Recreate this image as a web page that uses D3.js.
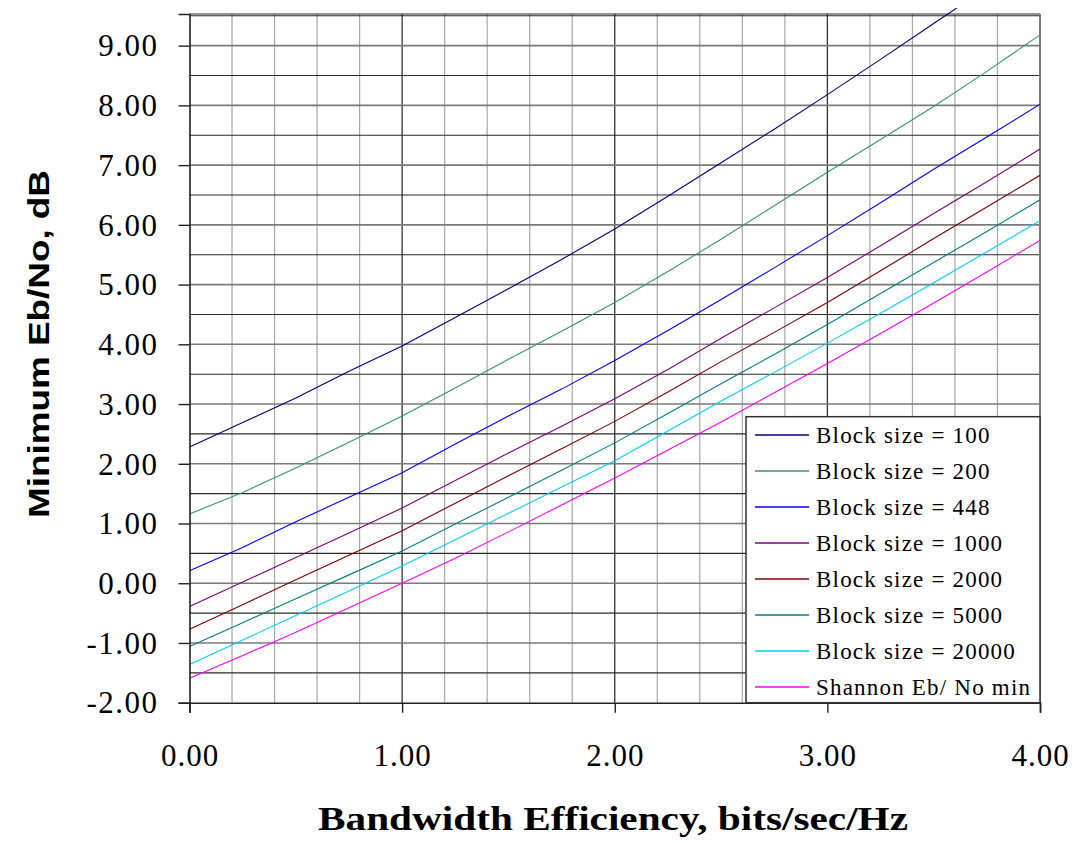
<!DOCTYPE html>
<html>
<head>
<meta charset="utf-8">
<script src="https://cdn.jsdelivr.net/npm/d3@7"></script>
<style>
  html, body { margin: 0; padding: 0; background: #fff; }
  svg { display: block; }
</style>
</head>
<body>
<svg id="chart" width="1077" height="843"></svg>
<script>
// ---- Data ----
const efficiency = [0, 0.25, 0.5, 0.75, 1.0, 1.25, 1.5, 1.75, 2.0, 2.25, 2.5, 2.75, 3.0, 3.25, 3.5, 3.75, 4.0];

const block100   = [2.28, 2.69, 3.10, 3.55, 3.97, 4.45, 4.93, 5.42, 5.93, 6.48, 7.04, 7.60, 8.18, 8.77, 9.37, 9.97, null];
const block200   = [1.16, 1.52, 1.93, 2.36, 2.80, 3.27, 3.75, 4.22, 4.70, 5.22, 5.76, 6.32, 6.88, 7.43, 7.98, 8.57, 9.18];
const block448   = [0.21, 0.60, 1.03, 1.44, 1.85, 2.33, 2.80, 3.25, 3.73, 4.23, 4.75, 5.28, 5.82, 6.37, 6.93, 7.47, 8.02];
const block1000  = [-0.39, 0.02, 0.43, 0.84, 1.26, 1.72, 2.18, 2.63, 3.09, 3.58, 4.10, 4.61, 5.12, 5.65, 6.19, 6.72, 7.27];
const block2000  = [-0.77, -0.36, 0.06, 0.47, 0.88, 1.34, 1.80, 2.25, 2.71, 3.20, 3.71, 4.20, 4.70, 5.23, 5.77, 6.30, 6.83];
const block5000  = [-1.06, -0.66, -0.26, 0.14, 0.54, 0.99, 1.44, 1.89, 2.35, 2.84, 3.34, 3.83, 4.33, 4.85, 5.37, 5.89, 6.42];
const block20000 = [-1.36, -0.95, -0.54, -0.13, 0.29, 0.73, 1.17, 1.61, 2.05, 2.55, 3.05, 3.53, 4.02, 4.52, 5.03, 5.55, 6.07];
const shannon    = [-1.59, -1.21, -0.82, -0.41, 0.00, 0.42, 0.86, 1.31, 1.76, 2.23, 2.70, 3.19, 3.68, 4.18, 4.69, 5.21, 5.74];

const seriesNames  = ["Block size = 100", "Block size = 200", "Block size = 448", "Block size = 1000",
                      "Block size = 2000", "Block size = 5000", "Block size = 20000", "Shannon Eb/ No min"];
const seriesValues = [block100, block200, block448, block1000, block2000, block5000, block20000, shannon];
const seriesColors = ["#000080", "#339966", "#0000ff", "#800080", "#800000", "#008080", "#00ccff", "#ff00ff"];

const xTicks = [0, 1, 2, 3, 4];
const yTicks = [-2, -1, 0, 1, 2, 3, 4, 5, 6, 7, 8, 9];
const xTitle = "Bandwidth Efficiency, bits/sec/Hz";
const yTitle = "Minimum Eb/No, dB";

// ---- Layout ----
const svg = d3.select("#chart");
const L = 189.5, R = 1040, T = 14, B = 702.7;

const x = d3.scaleLinear().domain([0, 4]).range([L, R]);
const y = d3.scaleLinear().domain([-2, 9.53]).range([B, T]);

const fmt = d3.formatLocale({decimal: ".", thousands: ",", grouping: [3], currency: ["", ""], minus: "-"}).format(".2f");

// vertical grid (every 0.2)
const vGrid = d3.range(0.2, 4.0001, 0.2).map(v => +v.toFixed(1));
svg.append("g").selectAll("line").data(vGrid).join("line")
  .attr("x1", d => x(d)).attr("x2", d => x(d))
  .attr("y1", T).attr("y2", B)
  .attr("stroke", d => Math.abs(d - Math.round(d)) < 1e-6 ? "#333333" : "#a6a6a6")
  .attr("stroke-width", d => Math.abs(d - Math.round(d)) < 1e-6 ? 1.3 : 1.2);

// horizontal grid (every 0.5)
const hGrid = d3.range(-1.5, 9.5001, 0.5).map(v => +v.toFixed(1));
svg.append("g").selectAll("line").data(hGrid).join("line")
  .attr("x1", L).attr("x2", R)
  .attr("y1", d => y(d)).attr("y2", d => y(d))
  .attr("stroke", d => Number.isInteger(d) ? "#7a7a7a" : "#2a2a2a")
  .attr("stroke-width", d => Number.isInteger(d) ? 1.6 : 1.1);

// top border and right border
svg.append("line").attr("x1", L).attr("x2", R).attr("y1", T).attr("y2", T)
  .attr("stroke", "#2a2a2a").attr("stroke-width", 1.2);
svg.append("line").attr("x1", R).attr("x2", R).attr("y1", T).attr("y2", B)
  .attr("stroke", "#7a7a7a").attr("stroke-width", 2);

// clip for curves (slightly above the top so the first curve runs off the edge)
svg.append("clipPath").attr("id", "plotclip")
  .append("rect").attr("x", L).attr("y", T - 6).attr("width", R - L).attr("height", B - T + 6);

const line = d3.line()
  .defined(d => d[1] !== null)
  .x(d => x(d[0])).y(d => y(d[1]));

svg.append("g").attr("clip-path", "url(#plotclip)")
  .selectAll("path").data(seriesValues).join("path")
  .attr("d", vals => line(efficiency.map((e, i) => [e, vals[i]])))
  .attr("fill", "none")
  .attr("stroke", (d, i) => seriesColors[i])
  .attr("stroke-width", 1.1);

// axes
const fontSerif = "'Liberation Serif', 'Times New Roman', serif";
const yAxis = d3.axisLeft(y).tickValues(yTicks).tickSize(11).tickPadding(20).tickFormat(fmt);
const gy = svg.append("g").attr("transform", `translate(${L},0)`).call(yAxis);
gy.select(".domain").attr("stroke", "#222").attr("stroke-width", 1.6);
gy.selectAll(".tick line").attr("stroke", "#222").attr("stroke-width", 1.4);
gy.selectAll(".tick text").attr("font-family", fontSerif).attr("font-size", 31)
  .attr("letter-spacing", "1.5px").attr("fill", "#000").attr("dy", "0.33em");

const xAxis = d3.axisBottom(x).tickValues(xTicks).tickSize(10).tickPadding(31).tickFormat(fmt);
const gx = svg.append("g").attr("transform", `translate(0,${B})`).call(xAxis);
gx.select(".domain").attr("stroke", "#222").attr("stroke-width", 1.6);
gx.selectAll(".tick line").attr("stroke", "#222").attr("stroke-width", 1.4);
gx.selectAll(".tick text").attr("font-family", fontSerif).attr("font-size", 31)
  .attr("letter-spacing", "1px").attr("fill", "#000");

// axis titles
svg.append("text")
  .attr("x", 613).attr("y", 830)
  .attr("text-anchor", "middle")
  .attr("font-family", fontSerif).attr("font-weight", "bold").attr("font-size", 34)
  .attr("textLength", 590).attr("lengthAdjust", "spacingAndGlyphs")
  .text(xTitle);

svg.append("text")
  .attr("transform", "translate(49,344) rotate(-90)")
  .attr("text-anchor", "middle")
  .attr("font-family", "'Liberation Sans', Arial, sans-serif").attr("font-weight", "bold").attr("font-size", 30)
  .attr("textLength", 348).attr("lengthAdjust", "spacingAndGlyphs")
  .text(yTitle);

// legend
const lg = svg.append("g");
lg.append("rect").attr("x", 746).attr("y", 416.7).attr("width", R - 746).attr("height", B - 416.7)
  .attr("fill", "#fff").attr("stroke", "#333").attr("stroke-width", 1.5);
const rowY = d3.scalePoint().domain(d3.range(seriesNames.length)).range([435, 687]);
const items = lg.selectAll("g.item").data(seriesNames).join("g").attr("class", "item")
  .attr("transform", (d, i) => `translate(0,${rowY(i)})`);
items.append("line").attr("x1", 755).attr("x2", 809).attr("y1", 0).attr("y2", 0)
  .attr("stroke", (d, i) => seriesColors[i]).attr("stroke-width", 1.3);
items.append("text").attr("x", 816).attr("y", 0).attr("dy", "0.33em")
  .attr("font-family", fontSerif).attr("font-size", 23).attr("letter-spacing", "1.2px")
  .attr("fill", "#000")
  .text(d => d);
</script>
</body>
</html>
